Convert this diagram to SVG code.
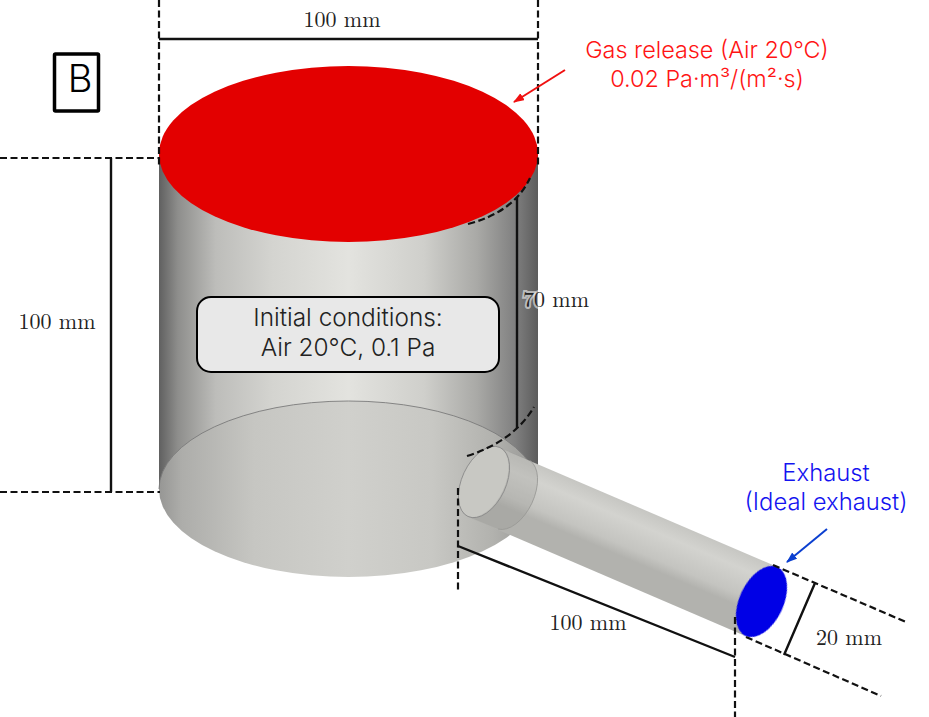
<svg xmlns="http://www.w3.org/2000/svg" width="929" height="717" viewBox="0 0 929 717">
<style>
.dash{fill:none;stroke:#111;stroke-width:2.200;stroke-dasharray:7 3.5}
.dim{fill:none;stroke:#111;stroke-width:2.400}
.math{font-family:"Latin Modern Roman","DejaVu Serif","Liberation Serif",serif;font-size:22px;fill:#222;text-anchor:middle}
.sans{font-family:"Inter","Liberation Sans",sans-serif;font-size:23.400px;font-weight:300;text-anchor:middle}
.blue{font-size:23.800px;fill:#1414f0}
.box{font-size:24.400px;fill:#222}
.edge{fill:none;stroke:#7a7a7a;stroke-width:.9}
</style>
<defs>
<filter id="soft" x="-5%" y="-5%" width="110%" height="110%"><feGaussianBlur stdDeviation=".7"/></filter>
<linearGradient id="cyl" x1="159" x2="538" y1="0" y2="0" gradientUnits="userSpaceOnUse">
<stop offset="0" stop-color="#606060"/><stop offset=".05" stop-color="#8e8e8c"/><stop offset=".15" stop-color="#bdbdba"/><stop offset=".3" stop-color="#d4d4d0"/><stop offset=".5" stop-color="#e3e3df"/><stop offset=".7" stop-color="#cfcfcb"/><stop offset=".84" stop-color="#a9a9a6"/><stop offset=".94" stop-color="#808080"/><stop offset="1" stop-color="#5c5c5c"/>
</linearGradient>
<linearGradient id="low" x1="159" x2="538" y1="0" y2="0" gradientUnits="userSpaceOnUse">
<stop offset="0" stop-color="#969694"/><stop offset=".06" stop-color="#adadaa"/><stop offset=".25" stop-color="#c6c6c2"/><stop offset=".5" stop-color="#d0d0cc"/><stop offset=".72" stop-color="#c8c8c4"/><stop offset=".88" stop-color="#b2b2ae"/><stop offset="1" stop-color="#969694"/>
</linearGradient>
<linearGradient id="pipe" x1="526" y1="438" x2="498" y2="504" gradientUnits="userSpaceOnUse">
<stop offset="0" stop-color="#aeaeaa"/><stop offset=".15" stop-color="#bfbfbb"/><stop offset=".5" stop-color="#d3d3cf"/><stop offset=".85" stop-color="#c4c4c0"/><stop offset="1" stop-color="#b2b2ae"/>
</linearGradient>
<marker id="ar" markerWidth="12" markerHeight="10" refX="10" refY="4" orient="auto" markerUnits="userSpaceOnUse"><path d="M0 0L11 4L0 8z" fill="#f01010"/></marker>
<marker id="ab" markerWidth="12" markerHeight="10" refX="10" refY="4" orient="auto" markerUnits="userSpaceOnUse"><path d="M0 0L11 4L0 8z" fill="#0b3fd0"/></marker>
</defs>

<g id="tank">
<path d="M159 154V489H538V154z" fill="url(#cyl)"/>
<ellipse cx="348.500" cy="489" rx="189.500" ry="88" fill="url(#low)" filter="url(#soft)"/>
<path d="M159 489A189.500 88 0 0 1 538 489" class="edge"/>
</g>

<g id="pipe-section">
<path d="M499 447.600L777.600 567L745.400 636L467 516.400A38 22 -65 0 1 499 447.600z" fill="url(#pipe)" filter="url(#soft)"/>
<ellipse cx="484" cy="482" rx="22" ry="38" transform="rotate(25 484 482)" fill="#c8c8c3"/>
<path d="M500 447.600L530 460.500A22 38 25 0 1 498 529L468 516.400A22 38 25 0 0 500 447.600z" fill="#8f8f8a" fill-opacity=".25"/>
<path d="M530 460.500A22 38 25 0 1 498 529" fill="none" stroke="#9a9a96" stroke-width=".9"/>
<ellipse cx="484" cy="482" rx="22" ry="38" transform="rotate(25 484 482)" fill="none" stroke="#888" stroke-width=".8"/>
</g>

<g id="gas-inlet"><ellipse cx="348.500" cy="154" rx="189.500" ry="88" fill="#e30000"/></g>
<g id="exhaust-face"><ellipse cx="761.500" cy="601.500" rx="22" ry="38" transform="rotate(25 761.500 601.500)" fill="#0000e6" filter="url(#soft)"/></g>

<g id="connectors">
<path class="dash" d="M159 0V165M538 0V165M0 158H160M0 492H160"/>
<path class="dash" d="M468 224Q514 212 530 178"/>
<path class="dash" d="M467 456Q514 441 534 407"/>
<path class="dash" d="M458 488V590M735 617V717"/>
<path class="dash" d="M773 565L906 622M746 637L881 696"/>
<path class="dim" d="M159 39H538M111 158V492M517 197V428M458 546L735 657M815 583L784 655"/>
<path d="M565 70L514 102" stroke="#f01010" stroke-width="2" marker-end="url(#ar)"/>
<path d="M827 529L787 562" stroke="#0b3fd0" stroke-width="2" marker-end="url(#ab)"/>
</g>

<g id="panel-label">
<rect x="54.500" y="54" width="44" height="57" fill="#fff" stroke="#000" stroke-width="3.500" rx="1"/>
<text x="80" y="92" font-family="Inter,sans-serif" font-weight="300" font-size="38" text-anchor="middle">B</text>
</g>

<g id="initial-conditions">
<rect x="197" y="297" width="302" height="75" rx="14" fill="#e8e8e8" stroke="#000" stroke-width="2"/>
<text class="sans box" x="348" y="326">Initial conditions:</text>
<text class="sans box" x="348" y="356">Air 20°C, 0.1 Pa</text>
</g>

<g id="labels">
<text class="math" x="342" y="27">100 mm</text>
<text class="math" x="57" y="329">100 mm</text>
<text class="math" x="556" y="307" stroke="#fff" stroke-width="4" stroke-opacity=".55" paint-order="stroke">70 mm</text>
<text class="math" x="588" y="630">100 mm</text>
<text class="math" x="849" y="645">20 mm</text>
<text class="sans" x="707" y="58" fill="#ff1414">Gas release (Air 20°C)</text>
<text class="sans" x="707" y="87" fill="#ff1414">0.02 Pa·m³/(m²·s)</text>
<text class="sans blue" x="826" y="481">Exhaust</text>
<text class="sans blue" x="826" y="510">(Ideal exhaust)</text>
</g>
</svg>
